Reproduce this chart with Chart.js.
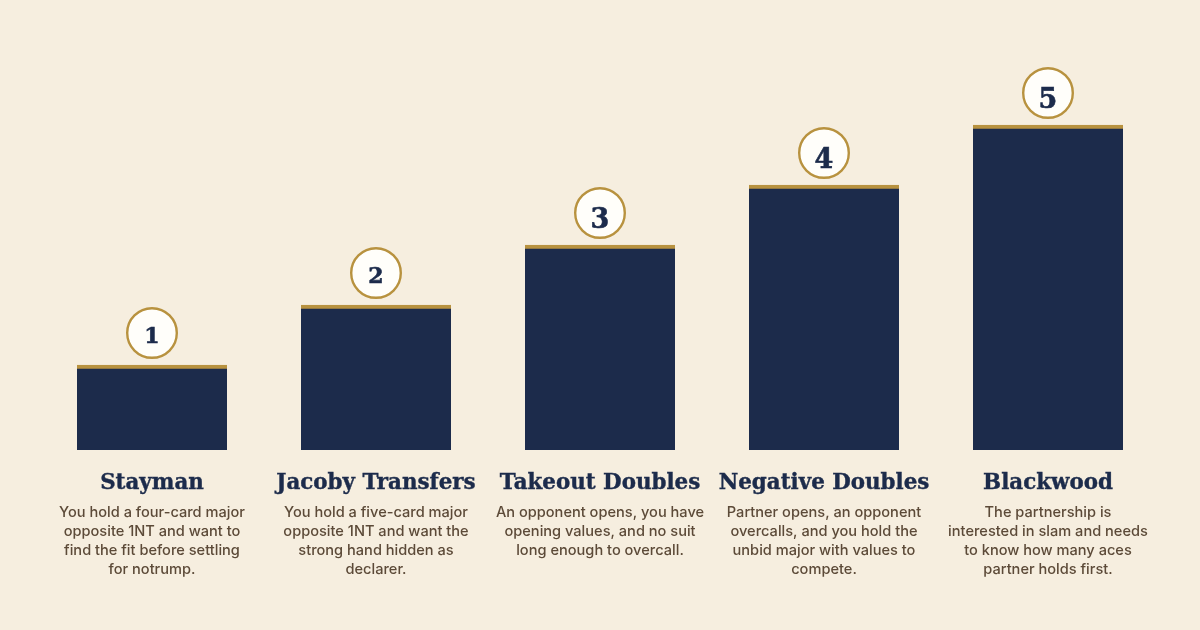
<!DOCTYPE html>
<html>
<head>
<meta charset="utf-8">
<style>
  html, body { margin: 0; background: #f6eedf; }
  canvas { display: block; }
</style>
<script src="https://cdn.jsdelivr.net/npm/chart.js@4/dist/chart.umd.min.js"></script>
</head>
<body>
<canvas id="myChart" width="1200" height="630"></canvas>
<script>
const conventions = ["Stayman", "Jacoby Transfers", "Takeout Doubles", "Negative Doubles", "Blackwood"];
const barValues = [85, 145, 205, 265, 325];
const badgeValues = [117, 177, 237, 297, 357];
const badgeNumbers = ["1", "2", "3", "4", "5"];
const descriptions = [
  ["You hold a four-card major", "opposite 1NT and want to", "find the fit before settling", "for notrump."],
  ["You hold a five-card major", "opposite 1NT and want the", "strong hand hidden as", "declarer."],
  ["An opponent opens, you have", "opening values, and no suit", "long enough to overcall."],
  ["Partner opens, an opponent", "overcalls, and you hold the", "unbid major with values to", "compete."],
  ["The partnership is", "interested in slam and needs", "to know how many aces", "partner holds first."],
];

const navy = "#1c2b4b";
const gold = "#b8923f";
const ink = "#5c4a38";
const serif = '"DejaVu Serif", serif';

// numbers inside the circles and the text under each title
const textPlugin = {
  id: "textPlugin",
  afterDatasetsDraw(chart) {
    const ctx = chart.ctx;
    const xScale = chart.scales.x;
    const badges = chart.getDatasetMeta(1).data;
    ctx.save();
    ctx.textAlign = "center";
    ctx.textBaseline = "alphabetic";
    ctx.fillStyle = navy;
    ctx.strokeStyle = navy;
    ctx.lineWidth = 0.6;
    badges.forEach((pt, i) => {
      // the reference has old style figures: 1 and 2 are small, 3 to 5 drop below the line
      const small = i < 2;
      ctx.font = "bold " + (small ? 22 : 27) + "px " + serif;
      const y = pt.y + (small ? 10 : 15);
      ctx.fillText(badgeNumbers[i], pt.x, y);
      ctx.strokeText(badgeNumbers[i], pt.x, y);
    });
    ctx.fillStyle = ink;
    ctx.font = "500 14.6px Inter, sans-serif";
    descriptions.forEach((lines, i) => {
      lines.forEach((line, j) => {
        ctx.fillText(line, xScale.getPixelForValue(i), 517 + j * 19);
      });
    });
    ctx.restore();
  },
};

new Chart(document.getElementById("myChart"), {
  type: "bar",
  data: {
    labels: conventions,
    datasets: [
      {
        type: "bar",
        data: barValues,
        backgroundColor: navy,
        borderColor: gold,
        borderWidth: { top: 4, left: 0, right: 0, bottom: 0 },
        borderSkipped: false,
        barThickness: 150,
        order: 2,
      },
      {
        type: "line",
        data: badgeValues,
        showLine: false,
        pointRadius: 24.8,
        pointHoverRadius: 24.8,
        pointBorderWidth: 2.4,
        pointBackgroundColor: "#fffefa",
        pointBorderColor: gold,
        order: 1,
      },
    ],
  },
  options: {
    responsive: false,
    animation: false,
    layout: { autoPadding: false, padding: { left: 40, right: 40, top: 0, bottom: 0 } },
    plugins: { legend: { display: false }, tooltip: { enabled: false } },
    scales: {
      y: { display: false, min: 0, max: 450 },
      x: {
        grid: { display: false },
        border: { display: false },
        afterFit(scale) { scale.height = 180; },
        ticks: {
          color: navy,
          autoSkip: false,
          maxRotation: 0,
          padding: 13,
          textStrokeColor: navy,
          textStrokeWidth: 0.4,
          font: { family: serif, weight: "bold", size: 21.4 },
        },
      },
    },
  },
  plugins: [textPlugin],
});
</script>
</body>
</html>
